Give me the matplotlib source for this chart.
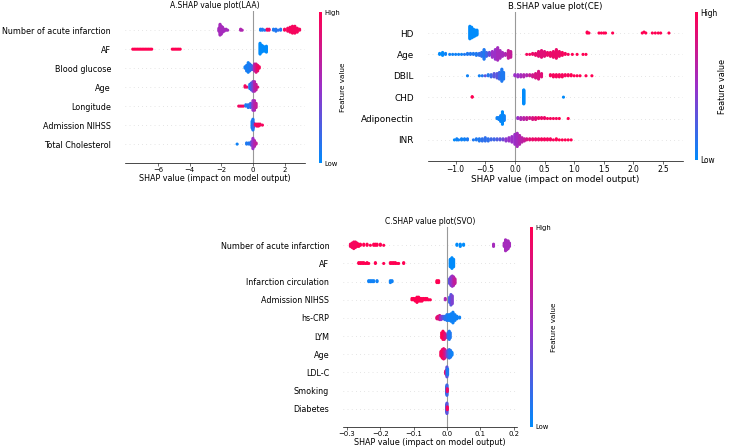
import numpy as np
import matplotlib
matplotlib.use("Agg")
import matplotlib.pyplot as plt
from matplotlib.colors import LinearSegmentedColormap
from matplotlib.cm import ScalarMappable

# shap-like red/blue colormap
red_blue = LinearSegmentedColormap.from_list("red_blue", ["#008bfb", "#9b30c8", "#ff0052"])

# ---- data: each point group is (shap value, feature value 0..1, count) ----
laa_title = "A.SHAP value plot(LAA)"
laa_features = ["Number of acute infarction", "AF", "Blood glucose", "Age",
                "Longitude", "Admission NIHSS", "Total Cholesterol"]
laa_points = [
    [(-2.15, 0.55, 4), (-2.08, 0.55, 12), (-2.0, 0.55, 9), (-1.92, 0.55, 6), (-1.82, 0.55, 3),
     (-1.7, 0.55, 2), (-1.6, 0.55, 1), (-0.78, 0.6, 2), (-0.68, 0.6, 1),
     (0.48, 0.05, 2), (0.6, 0.1, 2), (0.75, 0.1, 1), (0.9, 0.95, 2), (1.02, 0.9, 2),
     (1.3, 0.1, 2), (1.45, 0.1, 3), (1.6, 0.15, 1), (1.75, 0.1, 2),
     (2.0, 0.95, 2), (2.2, 0.95, 4), (2.35, 0.95, 6), (2.5, 0.95, 8), (2.65, 0.95, 8),
     (2.8, 0.95, 5), (2.95, 0.95, 2)],
    [(-7.6, 1, 1), (-7.5, 1, 1), (-7.4, 1, 1), (-7.3, 1, 1), (-7.2, 1, 1), (-7.1, 1, 1),
     (-7.0, 1, 1), (-6.9, 1, 1), (-6.8, 1, 1), (-6.7, 1, 1), (-6.6, 1, 1), (-6.5, 1, 1),
     (-6.4, 1, 1), (-5.1, 1, 1), (-5.0, 1, 1), (-4.9, 1, 1), (-4.8, 1, 1), (-4.7, 1, 1),
     (-4.6, 1, 1), (0.45, 0.0, 12), (0.55, 0.0, 8), (0.65, 0.0, 6), (0.75, 0.0, 5),
     (0.85, 0.0, 7)],
    [(-0.5, 0.05, 2), (-0.4, 0.1, 5), (-0.3, 0.05, 8), (-0.2, 0.1, 6), (-0.1, 0.15, 4),
     (0.0, 0.3, 3), (0.1, 0.6, 6), (0.2, 0.8, 7), (0.3, 0.9, 5), (0.4, 0.95, 2)],
    [(-0.5, 0.95, 2), (-0.38, 0.9, 1), (-0.2, 0.1, 4), (-0.1, 0.2, 6), (0.0, 0.4, 8),
     (0.1, 0.6, 8), (0.2, 0.7, 5), (0.3, 0.8, 1)],
    [(-0.9, 0.95, 1), (-0.8, 0.9, 1), (-0.7, 0.95, 1), (-0.6, 0.9, 1), (-0.45, 0.1, 2),
     (-0.3, 0.1, 3), (-0.15, 0.2, 4), (0.0, 0.5, 8), (0.1, 0.6, 8), (0.2, 0.7, 4)],
    [(-0.05, 0.05, 8), (0.0, 0.1, 12), (0.05, 0.2, 5), (0.15, 0.9, 2), (0.25, 0.95, 3),
     (0.35, 0.95, 3), (0.45, 0.95, 2), (0.6, 0.95, 1)],
    [(-1.0, 0.05, 1), (-0.4, 0.1, 2), (-0.25, 0.1, 2), (-0.1, 0.3, 4), (0.0, 0.5, 10),
     (0.1, 0.6, 6), (0.2, 0.7, 2)],
]
laa_xlim = (-8.1, 3.3)
laa_xticks = [-6, -4, -2, 0, 2]

ce_title = "B.SHAP value plot(CE)"
ce_features = ["HD", "Age", "DBIL", "CHD", "Adiponectin", "INR"]
ce_points = [
    [(-0.76, 0.0, 14), (-0.73, 0.0, 12), (-0.70, 0.0, 9), (-0.67, 0.0, 7), (-0.64, 0.0, 6),
     (1.22, 1, 2), (1.25, 1, 1), (1.42, 1, 1), (1.46, 1, 1), (1.5, 1, 1), (1.53, 1, 1),
     (1.65, 1, 1), (2.15, 1, 1), (2.18, 1, 1), (2.21, 1, 1), (2.32, 1, 1), (2.37, 1, 1),
     (2.42, 1, 1), (2.46, 1, 1), (2.6, 1, 1)],
    [(-1.27, 0.0, 2), (-1.22, 0.0, 4), (-1.17, 0.05, 2), (-1.1, 0.05, 1), (-1.05, 0.05, 1),
     (-1.0, 0.05, 1), (-0.95, 0.05, 1), (-0.9, 0.05, 1), (-0.85, 0.1, 1), (-0.8, 0.1, 2),
     (-0.75, 0.1, 2), (-0.7, 0.1, 2), (-0.65, 0.1, 3), (-0.6, 0.15, 3), (-0.56, 0.15, 5),
     (-0.52, 0.1, 11), (-0.48, 0.2, 5), (-0.43, 0.35, 4), (-0.38, 0.5, 7), (-0.33, 0.5, 11),
     (-0.29, 0.55, 14), (-0.25, 0.55, 9), (-0.21, 0.55, 5), (-0.16, 0.6, 3), (-0.11, 0.7, 9),
     (-0.07, 0.7, 7), (0.2, 0.95, 1), (0.25, 0.95, 1), (0.3, 0.9, 2), (0.35, 0.9, 3),
     (0.4, 0.85, 6), (0.45, 0.85, 8), (0.5, 0.85, 6), (0.55, 0.9, 4), (0.6, 0.9, 5),
     (0.65, 0.9, 7), (0.7, 0.9, 10), (0.75, 0.9, 6), (0.8, 0.95, 4), (0.85, 0.95, 2),
     (0.9, 0.95, 1), (0.97, 1, 1), (1.05, 1, 1), (1.15, 1, 1), (1.2, 1, 1)],
    [(-0.8, 0.05, 1), (-0.6, 0.05, 1), (-0.55, 0.1, 1), (-0.5, 0.3, 1), (-0.45, 0.1, 2),
     (-0.4, 0.2, 3), (-0.35, 0.3, 4), (-0.3, 0.3, 5), (-0.26, 0.2, 7), (-0.22, 0.1, 12),
     (-0.19, 0.1, 7), (0.0, 0.5, 2), (0.05, 0.5, 3), (0.1, 0.55, 3), (0.15, 0.6, 3),
     (0.2, 0.6, 2), (0.25, 0.7, 2), (0.3, 0.75, 3), (0.35, 0.8, 5), (0.4, 0.8, 8),
     (0.45, 0.85, 4), (0.6, 0.95, 2), (0.65, 0.95, 3), (0.7, 0.95, 3), (0.75, 0.95, 3),
     (0.8, 0.95, 3), (0.85, 0.95, 2), (0.9, 0.95, 2), (0.95, 1, 2), (1.0, 1, 1),
     (1.05, 1, 1), (1.1, 1, 1), (1.2, 1, 1), (1.3, 1, 1)],
    [(-0.72, 1.0, 2), (0.15, 0.0, 30), (0.82, 0.0, 1)],
    [(-0.3, 0.05, 2), (-0.27, 0.05, 3), (-0.24, 0.05, 7), (-0.21, 0.0, 14), (-0.18, 0.05, 6),
     (0.05, 0.5, 2), (0.1, 0.6, 3), (0.15, 0.65, 3), (0.2, 0.7, 3), (0.25, 0.75, 2),
     (0.3, 0.8, 3), (0.35, 0.85, 3), (0.4, 0.9, 2), (0.45, 0.9, 2), (0.5, 0.9, 2),
     (0.55, 0.95, 1), (0.6, 0.95, 1), (0.65, 0.95, 1), (0.7, 0.95, 1), (0.75, 1, 1),
     (0.9, 1, 1)],
    [(-1.02, 0.0, 1), (-0.98, 0.05, 2), (-0.95, 0.05, 1), (-0.9, 0.05, 2), (-0.85, 0.05, 2),
     (-0.8, 0.1, 2), (-0.7, 0.1, 1), (-0.65, 0.1, 2), (-0.6, 0.1, 3), (-0.55, 0.15, 3),
     (-0.5, 0.15, 4), (-0.45, 0.15, 3), (-0.4, 0.2, 2), (-0.35, 0.2, 2), (-0.3, 0.25, 2),
     (-0.25, 0.3, 2), (-0.2, 0.35, 2), (-0.15, 0.45, 3), (-0.1, 0.5, 4), (-0.05, 0.5, 6),
     (0.0, 0.5, 10), (0.04, 0.55, 13), (0.08, 0.6, 9), (0.12, 0.65, 5), (0.16, 0.7, 3),
     (0.2, 0.8, 2), (0.25, 0.85, 2), (0.3, 0.9, 2), (0.35, 0.9, 2), (0.4, 0.9, 2),
     (0.45, 0.95, 2), (0.5, 0.95, 2), (0.55, 0.95, 2), (0.6, 0.95, 2), (0.65, 0.95, 1),
     (0.7, 1, 2), (0.75, 1, 1), (0.8, 1, 1), (0.85, 1, 1), (0.9, 1, 1), (0.95, 1, 1)],
]
ce_xlim = (-1.47, 2.83)
ce_xticks = [-1.0, -0.5, 0.0, 0.5, 1.0, 1.5, 2.0, 2.5]

svo_title = "C.SHAP value plot(SVO)"
svo_features = ["Number of acute infarction", "AF", "Infarction circulation",
                "Admission NIHSS", "hs-CRP", "LYM", "Age", "LDL-C", "Smoking", "Diabetes"]
svo_points = [
    [(-0.29, 0.95, 3), (-0.285, 0.95, 5), (-0.28, 0.95, 7), (-0.275, 0.95, 6),
     (-0.27, 0.95, 4), (-0.265, 1, 3), (-0.26, 1, 2), (-0.25, 1, 2), (-0.24, 1, 2),
     (-0.23, 1, 1), (-0.22, 1, 2), (-0.215, 1, 2), (-0.21, 1, 2), (-0.2, 1, 2),
     (-0.19, 1, 1), (0.03, 0.0, 2), (0.04, 0.0, 3), (0.05, 0.0, 2), (0.14, 0.55, 3),
     (0.172, 0.55, 4), (0.176, 0.55, 7), (0.18, 0.55, 9), (0.184, 0.55, 8), (0.188, 0.55, 4)],
    [(-0.265, 1, 2), (-0.26, 1, 2), (-0.255, 1, 2), (-0.25, 1, 2), (-0.245, 1, 1),
     (-0.24, 1, 2), (-0.235, 1, 1), (-0.215, 1, 2), (-0.19, 1, 1), (-0.17, 1, 2),
     (-0.165, 1, 2), (-0.16, 1, 2), (-0.155, 1, 2), (-0.15, 1, 1), (-0.145, 1, 1),
     (-0.13, 1, 2), (0.01, 0.0, 10), (0.015, 0.0, 14), (0.02, 0.0, 10)],
    [(-0.235, 0.05, 2), (-0.23, 0.05, 2), (-0.225, 0.05, 2), (-0.22, 0.05, 2),
     (-0.21, 0.05, 2), (-0.17, 0.05, 3), (-0.165, 0.05, 2), (-0.03, 1, 3), (-0.025, 1, 3),
     (0.008, 0.3, 6), (0.012, 0.4, 10), (0.016, 0.5, 12), (0.02, 0.6, 10), (0.024, 0.7, 6)],
    [(-0.105, 1, 2), (-0.1, 1, 2), (-0.095, 1, 3), (-0.09, 1, 5), (-0.085, 1, 4),
     (-0.08, 1, 3), (-0.075, 1, 3), (-0.07, 1, 2), (-0.065, 1, 2), (-0.06, 1, 2),
     (-0.055, 1, 1), (-0.05, 1, 1), (-0.005, 0.6, 2), (0.008, 0.2, 5), (0.012, 0.3, 9),
     (0.016, 0.4, 7)],
    [(-0.03, 0.9, 3), (-0.027, 0.85, 4), (-0.022, 0.8, 6), (-0.018, 0.5, 5),
     (-0.012, 0.3, 4), (-0.006, 0.15, 5), (0.0, 0.1, 8), (0.006, 0.05, 8),
     (0.012, 0.05, 10), (0.018, 0.05, 14), (0.024, 0.05, 8), (0.03, 0.05, 4),
     (0.038, 0.05, 2)],
    [(-0.016, 1, 4), (-0.012, 1, 6), (-0.008, 0.9, 5), (-0.004, 0.8, 3), (0.003, 0.2, 4),
     (0.007, 0.1, 6), (0.01, 0.1, 4)],
    [(-0.018, 0.95, 6), (-0.014, 0.95, 10), (-0.01, 0.9, 12), (-0.006, 0.8, 10),
     (-0.002, 0.6, 6), (0.003, 0.3, 8), (0.007, 0.15, 10), (0.011, 0.1, 8), (0.015, 0.05, 4)],
    [(-0.004, 0.9, 3), (-0.002, 0.8, 5), (0.0, 0.3, 10), (0.002, 0.1, 6)],
    [(-0.001, 0.1, 8), (0.0, 0.2, 12), (0.001, 0.9, 4)],
    [(-0.001, 0.1, 8), (0.0, 0.3, 12), (0.001, 0.95, 4)],
]
svo_xlim = (-0.312, 0.21)
svo_xticks = [-0.3, -0.2, -0.1, 0.0, 0.1, 0.2]


def swarm_offsets(shaps, row_height=0.4, nbins=100):
    # same stacking idea as shap's beeswarm: points falling in one bin are piled up
    n = len(shaps)
    quant = np.round(nbins * (shaps - shaps.min()) / (shaps.max() - shaps.min() + 1e-8))
    inds = np.argsort(quant, kind="stable")
    ys = np.zeros(n)
    layer = 0
    last_bin = -1
    for ind in inds:
        if quant[ind] != last_bin:
            layer = 0
        ys[ind] = np.ceil(layer / 2) * ((layer % 2) * 2 - 1)
        layer += 1
        last_bin = quant[ind]
    ys *= 0.9 * (row_height / np.max(ys + 1))
    return ys


def draw_panel(fig, rect, crect, title, features, points, xlim, xticks, fs):
    ax = fig.add_axes(rect)
    nf = len(features)
    for i, groups in enumerate(points):
        pos = nf - 1 - i
        g = np.array(groups, dtype=float)
        shaps = np.repeat(g[:, 0], g[:, 2].astype(int))
        vals = np.repeat(g[:, 1], g[:, 2].astype(int))
        ys = swarm_offsets(shaps)
        ax.axhline(pos, color="#cccccc", lw=0.5, dashes=(1, 5), zorder=-1)
        ax.scatter(shaps, pos + ys, c=vals, cmap=red_blue, vmin=0, vmax=1,
                   s=5, linewidths=0, zorder=3)
    ax.axvline(0, color="#999999", lw=0.8, zorder=-1)
    ax.set_ylim(-1, nf)
    ax.set_xlim(*xlim)
    ax.set_yticks(range(nf))
    ax.set_yticklabels(features[::-1], fontsize=fs)
    ax.set_xticks(xticks)
    ax.tick_params(axis="x", labelsize=fs * 0.85, length=2, width=0.5, color="#333333", pad=1)
    ax.tick_params(axis="y", length=0, pad=10)
    for s in ["top", "right", "left"]:
        ax.spines[s].set_visible(False)
    ax.spines["bottom"].set_linewidth(0.5)
    ax.set_xlabel("SHAP value (impact on model output)", fontsize=fs, labelpad=0.5)
    ax.set_title(title, fontsize=fs * 0.95, pad=2)

    cax = fig.add_axes(crect)
    sm = ScalarMappable(cmap=red_blue)
    sm.set_array([0, 1])
    cb = fig.colorbar(sm, cax=cax, ticks=[0, 1])
    cb.set_ticklabels(["Low", "High"])
    cb.ax.tick_params(labelsize=fs * 0.85, length=0, pad=2)
    cb.set_label("Feature value", size=fs * 0.9, labelpad=0)
    cb.outline.set_visible(False)
    return ax


fig = plt.figure(figsize=(7.3, 4.48), dpi=100)

draw_panel(fig, [0.171, 0.636, 0.247, 0.339], [0.437, 0.636, 0.004, 0.337],
           laa_title, laa_features, laa_points, laa_xlim, laa_xticks, 5.8)
draw_panel(fig, [0.586, 0.640, 0.349, 0.334], [0.952, 0.643, 0.004, 0.330],
           ce_title, ce_features, ce_points, ce_xlim, ce_xticks, 6.4)
draw_panel(fig, [0.470, 0.047, 0.238, 0.446], [0.726, 0.047, 0.004, 0.446],
           svo_title, svo_features, svo_points, svo_xlim, svo_xticks, 5.8)

fig.savefig("out.png", dpi=100)
